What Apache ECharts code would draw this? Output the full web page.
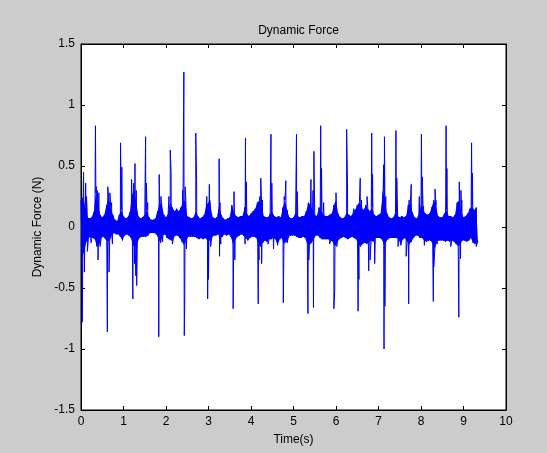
<!DOCTYPE html>
<html>
<head>
<meta charset="utf-8">
<script src="https://cdn.jsdelivr.net/npm/echarts@6/dist/echarts.min.js"></script>
<style>
  html, body { margin: 0; padding: 0; background: #cccccc; }
  #chart { width: 547px; height: 453px; }
</style>
</head>
<body>
<div id="chart"></div>
<script>
// Force record: the background band is stored as upper / lower envelope samples
// every 0.05 s (upper at t, lower at t + 0.025); impacts and smaller excursions
// are stored as separate (time, value) lists.
const binStep = 0.05;

const upperEnv = [
  // 0.00 - 0.95 s
  0.22, 0.25, 0.16, 0.08, 0.07, 0.08, 0.12, 0.28, 0.20, 0.10, 0.08, 0.10, 0.18, 0.24, 0.16, 0.10, 0.06, 0.05, 0.10, 0.14,
  // 1.00 - 1.95 s
  0.09, 0.07, 0.08, 0.12, 0.26, 0.30, 0.20, 0.09, 0.07, 0.08, 0.10, 0.14, 0.08, 0.06, 0.06, 0.07, 0.13, 0.20, 0.18, 0.10,
  // 2.00 - 2.95 s
  0.08, 0.11, 0.20, 0.16, 0.13, 0.15, 0.13, 0.16, 0.20, 0.22, 0.09, 0.08, 0.07, 0.08, 0.13, 0.09, 0.07, 0.08, 0.10, 0.18,
  // 3.00 - 3.95 s
  0.20, 0.16, 0.08, 0.07, 0.08, 0.18, 0.10, 0.07, 0.06, 0.07, 0.08, 0.18, 0.12, 0.09, 0.08, 0.09, 0.09, 0.16, 0.11, 0.09,
  // 4.00 - 4.95 s
  0.11, 0.13, 0.15, 0.20, 0.22, 0.18, 0.09, 0.08, 0.08, 0.11, 0.12, 0.09, 0.08, 0.09, 0.08, 0.16, 0.22, 0.14, 0.08, 0.07,
  // 5.00 - 5.95 s
  0.08, 0.12, 0.09, 0.08, 0.09, 0.09, 0.13, 0.20, 0.18, 0.14, 0.10, 0.09, 0.16, 0.14, 0.10, 0.09, 0.09, 0.10, 0.11, 0.18,
  // 6.00 - 6.95 s
  0.22, 0.11, 0.08, 0.07, 0.08, 0.12, 0.10, 0.09, 0.11, 0.14, 0.18, 0.20, 0.16, 0.14, 0.18, 0.15, 0.13, 0.16, 0.10, 0.09,
  // 7.00 - 7.95 s
  0.10, 0.11, 0.28, 0.22, 0.11, 0.08, 0.07, 0.08, 0.12, 0.09, 0.08, 0.09, 0.08, 0.09, 0.18, 0.20, 0.12, 0.08, 0.07, 0.11,
  // 8.00 - 8.95 s
  0.18, 0.14, 0.11, 0.10, 0.11, 0.16, 0.22, 0.18, 0.09, 0.08, 0.08, 0.11, 0.14, 0.09, 0.09, 0.08, 0.10, 0.20, 0.22, 0.12,
  // 9.00 - 9.30 s
  0.08, 0.09, 0.11, 0.15, 0.17, 0.14, 0.16
];

const lowerEnv = [
  -0.25, -0.20, -0.12, -0.09, -0.08, -0.09, -0.10, -0.16, -0.14, -0.09, -0.08, -0.10, -0.12, -0.11, -0.07, -0.05, -0.06, -0.06, -0.08, -0.11,
  -0.07, -0.06, -0.07, -0.09, -0.15, -0.17, -0.13, -0.09, -0.08, -0.08, -0.08, -0.07, -0.05, -0.05, -0.05, -0.06, -0.10, -0.13, -0.07, -0.06,
  -0.09, -0.10, -0.11, -0.09, -0.07, -0.07, -0.09, -0.12, -0.15, -0.11, -0.08, -0.08, -0.08, -0.08, -0.09, -0.10, -0.09, -0.10, -0.09, -0.11,
  -0.11, -0.09, -0.07, -0.07, -0.06, -0.09, -0.08, -0.06, -0.07, -0.06, -0.08, -0.14, -0.11, -0.08, -0.07, -0.06, -0.07, -0.09, -0.11, -0.09,
  -0.08, -0.08, -0.09, -0.14, -0.16, -0.13, -0.11, -0.12, -0.10, -0.10, -0.09, -0.10, -0.15, -0.10, -0.09, -0.14, -0.12, -0.09, -0.07, -0.07,
  -0.07, -0.08, -0.09, -0.09, -0.08, -0.09, -0.14, -0.15, -0.13, -0.10, -0.07, -0.07, -0.09, -0.10, -0.10, -0.10, -0.10, -0.11, -0.12, -0.16,
  -0.13, -0.10, -0.09, -0.08, -0.09, -0.10, -0.09, -0.08, -0.09, -0.10, -0.14, -0.16, -0.14, -0.13, -0.14, -0.12, -0.11, -0.12, -0.09, -0.09,
  -0.09, -0.10, -0.14, -0.12, -0.10, -0.09, -0.09, -0.09, -0.09, -0.10, -0.15, -0.10, -0.09, -0.12, -0.14, -0.12, -0.09, -0.07, -0.07, -0.09,
  -0.09, -0.11, -0.12, -0.11, -0.11, -0.14, -0.18, -0.12, -0.11, -0.11, -0.11, -0.12, -0.11, -0.12, -0.11, -0.12, -0.14, -0.16, -0.14, -0.11,
  -0.11, -0.12, -0.11, -0.09, -0.13, -0.14, -0.13
];

// Impact spikes (time in s, force in N)
const spikeTimes = [
  0.03, 0.06, 0.08, 0.11, 0.34, 0.36, 0.40, 0.42, 0.62, 0.63, 0.66, 0.68, 0.93, 0.96,
  1.19, 1.22, 1.27, 1.29, 1.31, 1.52, 1.54, 1.83, 1.84,
  2.10, 2.12, 2.42, 2.43, 2.44, 2.45, 2.70, 2.72, 2.98,
  3.00, 3.02, 3.25, 3.26, 3.58, 3.60, 3.87, 3.89,
  4.17, 4.19, 4.23, 4.25, 4.47, 4.49, 4.76, 4.78, 4.82,
  5.07, 5.09, 5.34, 5.41, 5.47, 5.48, 5.64, 5.66, 5.95, 5.97,
  6.25, 6.27, 6.52, 6.54, 6.57, 6.73, 6.77, 6.84, 6.86, 6.91,
  7.12, 7.13, 7.14, 7.15, 7.41, 7.43, 7.71, 7.77,
  8.01, 8.03, 8.29, 8.30, 8.33, 8.59, 8.61, 8.89, 8.90, 8.93,
  9.19, 9.21
];
const spikeValues = [
  -0.78, 0.45, -0.37, 0.36, 0.83, 0.33, -0.27, 0.28, -0.86, 0.33, -0.37, 0.28, 0.69, 0.49,
  0.39, -0.59, 0.52, -0.40, -0.48, 0.74, 0.36, -0.90, 0.43,
  0.63, 0.44, 1.27, -0.89, -0.65, 0.33, 0.77, 0.39, -0.59,
  -0.43, 0.35, 0.56, -0.24, -0.67, 0.29, 0.73, 0.37,
  -0.63, -0.27, 0.40, -0.30, 0.76, 0.36, -0.62, 0.25, 0.38,
  0.76, 0.29, -0.71, 0.39, -0.66, 0.62, 0.83, 0.48, -0.67, -0.52,
  0.80, 0.37, -0.69, -0.43, 0.40, 0.25, -0.36, 0.77, 0.43, -0.30,
  0.51, -1.00, 0.74, -0.65, 0.79, 0.40, -0.63, 0.35,
  0.76, 0.41, -0.61, -0.33, 0.31, 0.83, 0.48, -0.74, 0.37, -0.26,
  0.69, 0.44
];

// Smaller excursions around the impacts
const hairTimes = [
  0.13, 0.15, 0.24, 0.38, 0.45, 0.72, 0.74, 1.24, 1.26, 1.30, 1.57, 1.88, 1.92,
  2.07, 2.15, 2.39, 2.47, 2.48, 2.96, 3.03, 3.05, 3.27, 3.29, 3.62, 3.86,
  4.21, 4.27, 4.40, 4.53, 4.79, 4.85, 5.36, 5.46, 5.71, 5.85,
  6.00, 6.02, 6.42, 6.60, 6.80, 7.11, 7.17, 7.46, 7.65, 7.72,
  7.96, 8.06, 8.08, 8.35, 8.38, 8.70, 8.94, 8.96, 9.26, 9.30
];
const hairValues = [
  0.25, -0.20, -0.13, 0.30, -0.16, 0.20, -0.14, 0.36, -0.30, 0.30, 0.20, 0.25, -0.12,
  0.25, -0.14, 0.30, 0.20, -0.18, 0.25, 0.22, -0.16, 0.20, -0.14, -0.27, -0.14,
  0.25, 0.22, -0.14, -0.18, 0.25, -0.13, -0.27, 0.30, 0.20, -0.14,
  0.28, -0.16, 0.15, 0.22, -0.27, 0.30, 0.25, -0.16, -0.24, 0.22,
  0.25, 0.17, -0.15, 0.22, -0.14, -0.16, 0.30, 0.22, 0.15, -0.16
];

const lastSample = [9.34, -0.12];

const xTicks = { min: 0, max: 10, interval: 1 };
const yTicks = { min: -1.5, max: 1.5, interval: 0.5 };

// Envelope points
const upperPts = upperEnv.map((v, i) => [+(i * binStep).toFixed(4), v]);
const lowerPts = lowerEnv.map((v, i) => [+(i * binStep + binStep / 2).toFixed(4), v]);

// Full trace: envelope zigzag + spikes + excursions, in time order
const samples = upperPts.concat(lowerPts);
spikeTimes.forEach((t, i) => samples.push([t, spikeValues[i]]));
hairTimes.forEach((t, i) => samples.push([t, hairValues[i]]));
samples.push(lastSample);
samples.sort((a, b) => a[0] - b[0]);

// Closed outline of the dense band (upper edge forward, lower edge back)
const bandOutline = upperPts.concat([lastSample], lowerPts.slice().reverse());

const font = "'Liberation Sans', Arial, Helvetica, sans-serif";
const axisLine = { show: true, onZero: false, lineStyle: { color: '#000', width: 1 } };
const tick = { show: true, inside: true, length: 4, lineStyle: { color: '#000' } };
const label = { color: '#000', fontSize: 12, fontFamily: font };

const chart = echarts.init(document.getElementById('chart'), null, { renderer: 'canvas' });
chart.setOption({
  animation: false,
  backgroundColor: '#cccccc',
  title: {
    text: 'Dynamic Force',
    left: 293.5,
    top: 20,
    textAlign: 'center',
    textStyle: { color: '#000', fontSize: 12, fontWeight: 'normal', fontFamily: font }
  },
  grid: {
    left: 81, right: 41, top: 44, bottom: 43,
    show: true, backgroundColor: '#ffffff', borderColor: '#000', borderWidth: 1
  },
  xAxis: [
    {
      type: 'value', position: 'bottom', ...xTicks,
      name: 'Time(s)', nameLocation: 'middle', nameGap: 24,
      nameTextStyle: { color: '#000', fontSize: 12, fontFamily: font },
      axisLine, axisTick: tick, splitLine: { show: false },
      axisLabel: { ...label, margin: 6 }
    },
    {
      type: 'value', position: 'top', ...xTicks,
      axisLine, axisTick: tick, splitLine: { show: false },
      axisLabel: { show: false }
    }
  ],
  yAxis: [
    {
      type: 'value', position: 'left', ...yTicks,
      name: 'Dynamic Force (N)', nameLocation: 'middle', nameGap: 32,
      nameTextStyle: { color: '#000', fontSize: 12, fontFamily: font },
      axisLine, axisTick: tick, splitLine: { show: false },
      axisLabel: { ...label, margin: 6 }
    },
    {
      type: 'value', position: 'right', ...yTicks,
      axisLine, axisTick: tick, splitLine: { show: false },
      axisLabel: { show: false }
    }
  ],
  series: [
    {
      type: 'custom',
      xAxisIndex: 0, yAxisIndex: 0,
      silent: true,
      data: [[0, 0]],
      renderItem: function (params, api) {
        return {
          type: 'polygon',
          shape: { points: bandOutline.map(p => api.coord(p)) },
          style: { fill: '#0000ff', stroke: null }
        };
      }
    },
    {
      type: 'line',
      data: samples,
      xAxisIndex: 0, yAxisIndex: 0,
      showSymbol: false,
      symbol: 'none',
      lineStyle: { color: '#0000ff', width: 1 },
      silent: true
    }
  ]
});
</script>
</body>
</html>
